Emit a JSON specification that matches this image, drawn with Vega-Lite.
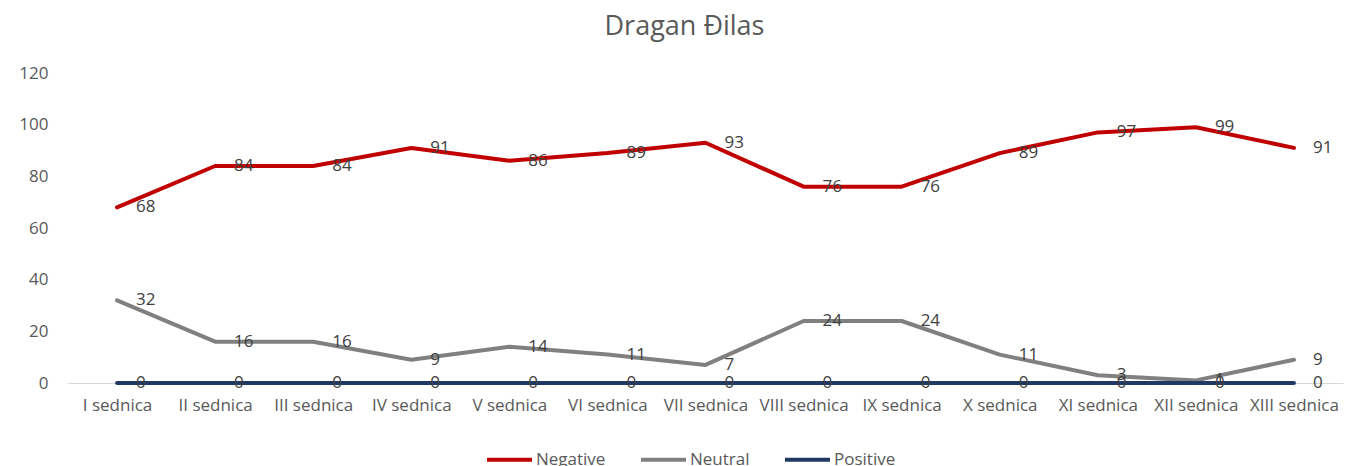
{
  "$schema": "https://vega.github.io/schema/vega-lite/v6.json",
  "width": 1275,
  "height": 310,
  "autosize": {"type": "none"},
  "padding": {"left": 68, "top": 73, "right": 5, "bottom": 83},
  "background": "white",
  "title": {
    "text": "Dragan Đilas",
    "font": "Open Sans",
    "fontSize": 27,
    "fontWeight": "normal",
    "color": "#595959",
    "anchor": "middle",
    "dx": -21,
    "offset": 23
  },
  "config": {
    "view": {"stroke": null},
    "font": "Open Sans"
  },
  "data": {
    "values": [
      {"session": "I sednica", "series": "Negative", "value": 68},
      {"session": "II sednica", "series": "Negative", "value": 84},
      {"session": "III sednica", "series": "Negative", "value": 84},
      {"session": "IV sednica", "series": "Negative", "value": 91},
      {"session": "V sednica", "series": "Negative", "value": 86},
      {"session": "VI sednica", "series": "Negative", "value": 89},
      {"session": "VII sednica", "series": "Negative", "value": 93},
      {"session": "VIII sednica", "series": "Negative", "value": 76},
      {"session": "IX sednica", "series": "Negative", "value": 76},
      {"session": "X sednica", "series": "Negative", "value": 89},
      {"session": "XI sednica", "series": "Negative", "value": 97},
      {"session": "XII sednica", "series": "Negative", "value": 99},
      {"session": "XIII sednica", "series": "Negative", "value": 91},
      {"session": "I sednica", "series": "Neutral", "value": 32},
      {"session": "II sednica", "series": "Neutral", "value": 16},
      {"session": "III sednica", "series": "Neutral", "value": 16},
      {"session": "IV sednica", "series": "Neutral", "value": 9},
      {"session": "V sednica", "series": "Neutral", "value": 14},
      {"session": "VI sednica", "series": "Neutral", "value": 11},
      {"session": "VII sednica", "series": "Neutral", "value": 7},
      {"session": "VIII sednica", "series": "Neutral", "value": 24},
      {"session": "IX sednica", "series": "Neutral", "value": 24},
      {"session": "X sednica", "series": "Neutral", "value": 11},
      {"session": "XI sednica", "series": "Neutral", "value": 3},
      {"session": "XII sednica", "series": "Neutral", "value": 1},
      {"session": "XIII sednica", "series": "Neutral", "value": 9},
      {"session": "I sednica", "series": "Positive", "value": 0},
      {"session": "II sednica", "series": "Positive", "value": 0},
      {"session": "III sednica", "series": "Positive", "value": 0},
      {"session": "IV sednica", "series": "Positive", "value": 0},
      {"session": "V sednica", "series": "Positive", "value": 0},
      {"session": "VI sednica", "series": "Positive", "value": 0},
      {"session": "VII sednica", "series": "Positive", "value": 0},
      {"session": "VIII sednica", "series": "Positive", "value": 0},
      {"session": "IX sednica", "series": "Positive", "value": 0},
      {"session": "X sednica", "series": "Positive", "value": 0},
      {"session": "XI sednica", "series": "Positive", "value": 0},
      {"session": "XII sednica", "series": "Positive", "value": 0},
      {"session": "XIII sednica", "series": "Positive", "value": 0}
    ]
  },
  "encoding": {
    "x": {
      "field": "session",
      "type": "ordinal",
      "sort": null,
      "scale": {"type": "point", "padding": 0.5},
      "axis": {
        "title": null,
        "labelAngle": 0,
        "ticks": false,
        "domain": true,
        "domainColor": "#D9D9D9",
        "domainWidth": 1,
        "labelFont": "Open Sans",
        "labelFontSize": 17,
        "labelColor": "#595959",
        "labelPadding": 14,
        "labelOverlap": false,
        "grid": false
      }
    },
    "y": {
      "field": "value",
      "type": "quantitative",
      "scale": {"domain": [0, 120], "nice": false},
      "axis": {
        "title": null,
        "values": [0, 20, 40, 60, 80, 100, 120],
        "ticks": false,
        "domain": false,
        "grid": false,
        "labelFont": "Open Sans",
        "labelFontSize": 17,
        "labelColor": "#595959",
        "labelPadding": 20
      }
    }
  },
  "layer": [
    {
      "mark": {"type": "line", "strokeWidth": 4, "strokeJoin": "round", "strokeCap": "round"},
      "encoding": {
        "color": {
          "field": "series",
          "type": "nominal",
          "sort": ["Negative", "Neutral", "Positive"],
          "scale": {"domain": ["Negative", "Neutral", "Positive"], "range": ["#C00000", "#808080", "#203864"]},
          "legend": {
            "title": null,
            "orient": "none",
            "direction": "horizontal",
            "legendX": 417,
            "legendY": 362,
            "symbolType": "stroke",
            "symbolSize": 2025,
            "symbolStrokeWidth": 4,
            "labelFont": "Open Sans",
            "labelFontSize": 17,
            "labelColor": "#595959",
            "labelOffset": 2,
            "columnPadding": 27
          }
        },
        "order": {"field": "series"}
      }
    },
    {
      "mark": {"type": "text", "align": "left", "baseline": "middle", "dx": 19, "font": "Open Sans", "fontSize": 17, "color": "#404040"},
      "encoding": {
        "text": {"field": "value", "type": "quantitative"}
      }
    }
  ]
}
